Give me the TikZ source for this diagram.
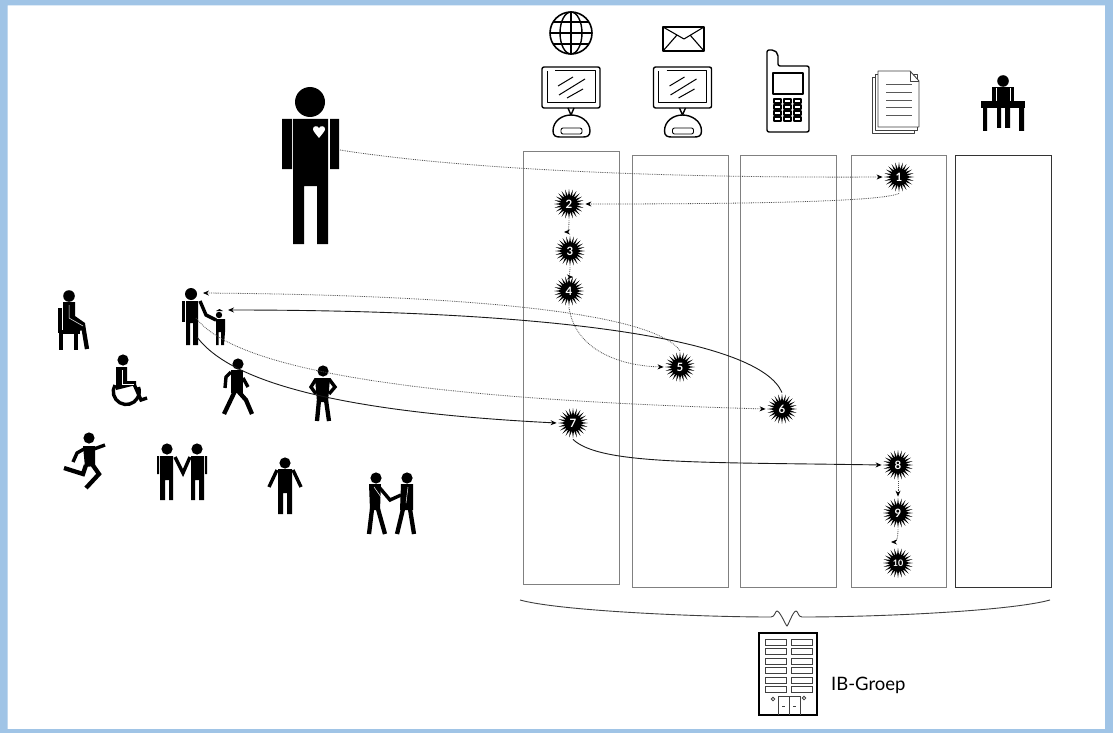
\documentclass[tikz,border=0pt]{standalone}
\usepackage{fontspec}
\setmainfont{Lato}
\usetikzlibrary{positioning,arrows.meta,shapes.geometric}
\definecolor{framecol}{RGB}{160,196,230}

\tikzset{
  burst/.style={shape=star, star points=24, star point ratio=1.9, fill=black,
    minimum size=30pt, inner sep=0pt, text=white, font=\fontsize{11.5}{11.5}\selectfont\bfseries},
  flowdot/.style={densely dotted, line width=0.8pt, black!70, -{Stealth[length=6pt,width=5pt,black]}},
  flowline/.style={line width=0.9pt, black!90, -{Stealth[length=6pt,width=5pt,black]}},
  column/.style={draw=black!50, line width=0.9pt},
  icon/.style={draw=black, line width=1.4pt, line join=round},
  limb/.style={draw=black, line width=4.3pt},
  arm/.style={draw=black, line width=3.4pt},
  crease/.style={draw=white, line width=0.5pt},
  pics/monitor/.style={code={
    \draw[icon, rounded corners=2pt] (569,67) -- (600,67) -- (600,108) -- (542,108) -- (542,67) -- (569,67);
    \draw[icon, line width=1pt] (555,71) -- (595,71) -- (595,103) -- (547,103) -- (547,71);
    \draw[icon, line width=1pt] (558,86) -- (573,77) (559,95) -- (585,79) (567,98) -- (583,89);
    \draw[icon] (568,108) -- (571,115) -- (574,108);
    \draw[icon] (553,131) .. controls (553,121) and (562,115) .. (571,115)
      .. controls (580,115) and (590,121) .. (590,131)
      .. controls (590,136) and (587,137) .. (583,137) -- (560,137)
      .. controls (556,137) and (553,136) .. (553,131) -- cycle;
    \draw[icon, line width=0.9pt, rounded corners=2pt] (561,128) -- (582,128) -- (582,134) -- (561,134) -- cycle;
  }}
}

\begin{document}
\begin{tikzpicture}[x=1pt, y=-1pt]

  \useasboundingbox (0,0) rectangle (1113,733);
  \def\colTop{155}
  \def\colBot{587}

  % frame
  \fill[white] (0,0) rectangle (1113,733);
  \fill[framecol, even odd rule] (0,0) rectangle (1113,733) (7.5,5.5) rectangle (1105,729);

  % columns
  \draw[column] (523,151) rectangle (619,584);
  \draw[column] (632,\colTop) rectangle (728,\colBot);
  \draw[column] (740,\colTop) rectangle (836,\colBot);
  \draw[column] (851,\colTop) rectangle (946,\colBot);
  \draw[column, black!80] (955,\colTop) rectangle (1051,\colBot);

  % globe
  \draw[icon, line width=1.6pt] (571,33) circle (21);
  \draw[icon] (571,33) ellipse (11 and 21);
  \draw[icon] (571,12) -- (571,54) (550,33) -- (592,33) (553,22) -- (589,22) (553,44) -- (589,44);

  % monitors
  \pic at (0,0) {monitor};
  \pic at (111.5,0) {monitor};

  % envelope
  \draw[icon] (663,27) rectangle (704,51);
  \draw[icon, line width=1.1pt] (663,27) -- (684,39) -- (704,27) (663,51) -- (677,35) (704,51) -- (690,35);

  % phone
  \draw[icon, rounded corners=2pt] (767,132) -- (767,50) -- (774,50) -- (778,54) -- (778,66)
    -- (809,66) -- (809,132) -- cycle;
  \draw[icon] (773,73) rectangle (803,94);
  \foreach \kx in {774,784,794}
    \foreach \ky in {99,105,111,117}
      \draw[icon, line width=1.2pt] (\kx,\ky) rectangle +(7,4);

  % papers
  \draw[icon, line width=0.9pt, black!75] (872,77) rectangle (914,133);
  \draw[icon, line width=0.9pt, black!75, fill=white] (875,74) rectangle (917,130);
  \draw[icon, line width=0.9pt, black!75, fill=white] (878,71) -- (910,71) -- (919,81) -- (919,127) -- (878,127) -- cycle;
  \draw[icon, line width=0.9pt, black!75] (910,71) -- (910,81) -- (919,81);
  \foreach \ly in {85,93,101,108,116}
    \draw[black!65, line width=1pt] (886,\ly) -- (912,\ly);

  % desk
  \fill (1003,81) circle (5.8);
  \fill (992,87) rectangle (1014,102);
  \fill (981,101) rectangle (1025,108);
  \fill (983,108) rectangle (987,131) (1019,108) rectangle (1024,131);
  \fill (997,108) rectangle (1001,128) (1005,108) rectangle (1010,128);
  \draw[crease] (996,88) -- (996,101) (1010,88) -- (1010,101);

  % big person
  \fill (310,102) circle (15);
  \fill (282,119) rectangle (292,169) (330,119) rectangle (339,169);
  \fill (293,119) -- (328,119) -- (328,244) -- (317,244) -- (317,186) -- (304,186) -- (304,244) -- (293,244) -- cycle;
  \fill[white] (319,138) .. controls (315,133) and (313,131) .. (313,129)
    .. controls (313,126) and (317,125) .. (319,128)
    .. controls (321,125) and (325,126) .. (325,129)
    .. controls (325,131) and (323,133) .. (319,138);

  % seated
  \fill (69,296) circle (5.8);
  \fill (63,302) -- (75,302) -- (75,316) -- (85,323) -- (85,330) -- (63,333) -- cycle;
  \draw[arm] (60,308) -- (60,333);
  \draw[limb] (61,332) -- (61,350) (76,331) -- (76,350);
  \draw[limb] (83,325) -- (87,349);
  \draw[arm] (60,332) -- (80,332);
  \draw[crease] (69,305) -- (69,318) -- (83,326);

  % wheelchair
  \fill (123,360) circle (5.6);
  \fill (116,367) -- (127,367) -- (127,381) -- (136,381) -- (136,385) -- (116,390) -- cycle;
  \draw[arm] (134,384) -- (141,400) -- (147,398);
  \draw[arm] (115,385) arc[start angle=-150, end angle=-380, radius=13];
  \draw[crease] (122,370) -- (122,384) -- (134,384);

  % person and child
  \fill (191,294) circle (6);
  \fill (181.5,301) rectangle (184.5,322);
  \fill (186,301) -- (198,301) -- (198,345) -- (193,345) -- (193,323) -- (190,323) -- (190,345) -- (186,345) -- cycle;
  \draw[arm] (200,301) -- (206,315) -- (216,320);
  \fill (219,315) circle (3.2);
  \fill (216,319) -- (225,319) -- (225,332) -- (224,345) -- (221,345) -- (221,332) -- (218.5,332) -- (218.5,345) -- (216,345) -- cycle;
  \fill (219.5,309) -- (216,311) -- (223,311) -- cycle;

  % walking
  \fill (238,364) circle (5.6);
  \fill (231,370) -- (243,370) -- (243,393) -- (231,393) -- cycle;
  \draw[arm] (231,372) -- (226,377) -- (225,388);
  \draw[arm] (243,378) -- (248,387);
  \draw[limb] (235,391) -- (224,414);
  \draw[limb] (238,391) -- (246,400) -- (252,414);

  % hands on hips
  \fill (323,371) circle (5.6);
  \fill (315,378) -- (330,378) -- (328,402) -- (317,402) -- cycle;
  \draw[arm] (316,379) -- (311,387) -- (316,394) (329,379) -- (335,387) -- (329,394);
  \draw[limb] (319,400) -- (317,421) (326,400) -- (329,421);

  % running
  \fill (89,438) circle (5.6);
  \fill (83,446) -- (95,446) -- (95,466) -- (85,467) -- cycle;
  \draw[arm] (94,449) -- (105,445);
  \draw[arm] (84,449) -- (77,453) -- (73,462);
  \draw[limb] (86,465) -- (83,474) -- (64,468);
  \draw[limb] (92,464) -- (99,474) -- (86,488);

  % two persons
  \fill (167,449) circle (5.6) (197,449) circle (5.6);
  \fill (157,456) rectangle (159,474) (205,456) rectangle (207,474);
  \fill (160,456) -- (173,456) -- (173,500) -- (169,500) -- (169,480) -- (165,480) -- (165,500) -- (160,500) -- cycle;
  \fill (191,456) -- (204,456) -- (204,500) -- (199,500) -- (199,480) -- (195,480) -- (195,500) -- (191,500) -- cycle;
  \draw[arm] (175,457) -- (183,473) -- (190,457);

  % alone
  \fill (285,463) circle (5.6);
  \fill (278,469) -- (292,469) -- (292,514) -- (287,514) -- (287,493) -- (283,493) -- (283,514) -- (278,514) -- cycle;
  \draw[arm] (277,470) -- (269,487) (293,470) -- (301,487);

  % handshake
  \fill (376,478) circle (5.6) (407,478) circle (5.6);
  \fill (369,484) -- (381,484) -- (380,510) -- (370,510) -- cycle;
  \fill (401,484) -- (413,484) -- (413,510) -- (400,510) -- cycle;
  \draw[limb] (372,509) -- (369,534) (378,509) -- (385,534);
  \draw[limb] (403,509) -- (397,534) (410,509) -- (414,534);
  \draw[arm] (379,487) -- (390,500) -- (401,495);
  \draw[crease] (374,487) -- (381,497) (408,487) -- (406,503);

  % bursts
  \node[burst] (b1) at (899,177) {1};
  \node[burst] (b2) at (569,204) {2};
  \node[burst] (b3) at (570,251) {3};
  \node[burst] (b4) at (569,291) {4};
  \node[burst] (b5) at (680,367) {5};
  \node[burst] (b6) at (782,409) {6};
  \node[burst] (b7) at (573,423) {7};
  \node[burst] (b8) at (898,465) {8};
  \node[burst] (b9) at (898,513) {9};
  \node[burst, font=\fontsize{9}{9}\selectfont\bfseries] (b10) at (898,563) {10};

  % ends on the persons
  \coordinate (heart) at (340,150);
  \coordinate (parentTop) at (203,293);
  \coordinate (parentMid) at (196,318);
  \coordinate (parentLow) at (197,337);
  \coordinate (childTop) at (228,310);
  \coordinate (tipThree) at (564,232);
  \coordinate (tipFour) at (573,277);
  \coordinate (tipTen) at (891,542);

  % route
  \draw[flowdot] (heart) .. controls (480,172) and (700,178) .. (b1.west);
  \draw[flowdot] (b1.south) .. controls (880,203) and (700,204) .. (b2.east);
  \draw[flowdot] (b2.south) .. controls (569,228) and (568,232) .. (tipThree);
  \draw[flowdot] (b3.south) .. controls (570,272) and (569,277) .. (tipFour);
  \draw[flowdot] (b4.south) .. controls (575,350) and (620,366) .. (b5.west);
  \draw[flowdot] (b5.north) .. controls (650,310) and (450,295) .. (parentTop);
  \draw[flowline] (b6.north) .. controls (760,340) and (560,310) .. (childTop);
  \draw[flowdot] (parentMid) .. controls (240,375) and (450,400) .. (b6.west);
  \draw[flowline] (parentLow) .. controls (240,395) and (400,415) .. (b7.west);
  \draw[flowline] (b7.south) .. controls (600,465) and (700,462) .. (b8.west);
  \draw[flowdot] (b8.south) -- (b9.north);
  \draw[flowdot] (b9.south) .. controls (898,536) and (897,542) .. (tipTen);

  % brace
  \draw[black!75, line width=0.9pt] (520,600) .. controls (560,611) and (700,617) .. (771,617)
    .. controls (775,617) and (775,611) .. (777,611) .. controls (780,611) and (786,626) .. (787,626)
    .. controls (788,626) and (793,611) .. (796,611)
    .. controls (798,611) and (798,617) .. (802,617)
    .. controls (880,617) and (1010,611) .. (1050,600);

  % building
  \draw[line width=1.8pt] (759,633) rectangle (817,715);
  \foreach \wy in {639,648.6,658,667.6,677,686.6} {
    \draw[black!75, line width=0.8pt] (765,\wy) rectangle +(21,6);
    \draw[black!75, line width=0.8pt] (791,\wy) rectangle +(21,6);
  }
  \draw[black!75, line width=0.8pt] (778,715) -- (778,696) -- (800,696) -- (800,715) (789,696) -- (789,715);
  \draw[black!75, line width=0.8pt] (782,706) -- (785,706) (793,706) -- (796,706);
  \draw[black!75, line width=0.8pt] (773,699) circle (1.8) (804,698) circle (1.8);
  \node[anchor=west, font=\fontsize{18.5}{20}\selectfont, inner sep=0pt] (ibgroep) at (831,685) {IB-Groep};

\end{tikzpicture}
\end{document}
